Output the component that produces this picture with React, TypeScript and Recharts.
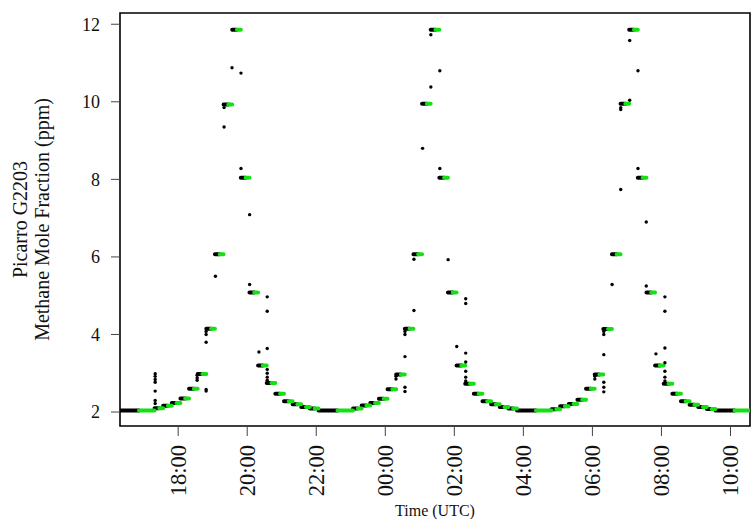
import { ComposedChart, Line, Scatter, XAxis, YAxis, ReferenceArea } from "recharts";

// Picarro G2203 calibration run: 15-minute concentration steps, 1 h at baseline between cycles
const X_MIN = 16.315;
const X_MAX = 34.565;
const Y_MIN = 1.64;
const Y_MAX = 12.29;

const X_TICKS = [18, 20, 22, 24, 26, 28, 30, 32, 34];
const Y_TICKS = [2, 4, 6, 8, 10, 12];

const LEAD_START = 16.315;
const LEAD_LEVEL = 2.04;
const STEP_HOURS = 0.25;
const BASELINE_HOURS = 1;

const CYCLE_STARTS = [17.315, 23.065, 28.815];
const CYCLE1_LEVELS = [2.1, 2.16, 2.23, 2.35, 2.6, 2.98, 4.15, 6.07, 9.93, 11.86, 8.04, 5.08, 3.2, 2.75, 2.47, 2.28, 2.2, 2.13, 2.09];
const CYCLE2_LEVELS = [2.09, 2.17, 2.23, 2.34, 2.59, 2.97, 4.15, 6.07, 9.95, 11.86, 8.04, 5.08, 3.2, 2.73, 2.47, 2.28, 2.2, 2.13, 2.09];
const CYCLE3_LEVELS = [2.07, 2.15, 2.21, 2.32, 2.6, 2.97, 4.14, 6.07, 9.95, 11.86, 8.04, 5.08, 3.2, 2.73, 2.47, 2.28, 2.19, 2.13, 2.08];
const CYCLE_BASELINES = [2.04, 2.04, 2.04];

// transition readings between steps (time in hours, ppm)
const OUTLIERS_C1 = [
  [17.334, 2.99], [17.334, 2.92], [17.334, 2.84], [17.334, 2.77], [17.334, 2.54], [17.334, 2.3], [17.334, 2.22],
  [18.55, 2.82], [18.55, 2.88], [18.55, 2.95],
  [18.81, 2.54], [18.81, 2.58], [18.81, 3.8], [18.81, 4.0], [18.81, 4.08],
  [19.08, 5.5], [19.33, 9.35], [19.33, 9.85], [19.56, 10.88],
  [19.82, 10.74], [19.82, 8.28], [20.07, 7.09], [20.07, 5.29], [20.34, 3.55],
  [20.58, 4.97], [20.58, 4.6], [20.58, 3.64], [20.58, 3.1], [20.58, 3.0], [20.58, 2.9], [20.58, 2.82],
];
const OUTLIERS_C2 = [
  [24.31, 2.85], [24.31, 2.92],
  [24.57, 2.64], [24.57, 2.53], [24.57, 3.43], [24.57, 4.0], [24.57, 4.08],
  [24.83, 4.62], [24.83, 5.94], [25.08, 8.8], [25.32, 10.38], [25.32, 11.73],
  [25.58, 10.8], [25.58, 8.28], [25.82, 5.93], [26.07, 3.69],
  [26.33, 4.92], [26.33, 4.8], [26.33, 3.52], [26.33, 3.29], [26.33, 3.05], [26.33, 2.9], [26.33, 2.8],
];
const OUTLIERS_C3 = [
  [30.07, 2.85], [30.07, 2.92],
  [30.33, 2.77], [30.33, 2.64], [30.33, 2.52], [30.33, 3.48], [30.33, 4.0], [30.33, 4.08],
  [30.57, 5.29], [30.82, 7.74], [30.82, 9.8], [30.82, 9.85],
  [31.08, 10.04], [31.08, 11.58], [31.32, 10.8], [31.32, 8.28],
  [31.56, 6.9], [31.56, 5.25], [31.84, 3.5],
  [32.1, 4.97], [32.1, 4.6], [32.1, 3.65], [32.1, 3.27], [32.1, 3.05], [32.1, 2.9], [32.1, 2.8],
];

const GREEN_FROM = 0.55; // share of each step shown black before the green averaging window
const FONT = "'Liberation Serif', 'Times New Roman', serif";

type Pt = { t: number; v: number | null };

function buildBands() {
  const black: Pt[] = [];
  const green: Pt[] = [];
  const addStep = (t0: number, dur: number, v: number) => {
    const tm = t0 + dur * GREEN_FROM;
    black.push({ t: t0, v }, { t: tm, v }, { t: tm, v: null });
    green.push({ t: tm, v }, { t: t0 + dur, v }, { t: t0 + dur, v: null });
  };
  addStep(LEAD_START, BASELINE_HOURS, LEAD_LEVEL);
  [CYCLE1_LEVELS, CYCLE2_LEVELS, CYCLE3_LEVELS].forEach((levels, c) => {
    let t = CYCLE_STARTS[c];
    levels.forEach((v) => {
      addStep(t, STEP_HOURS, v);
      t += STEP_HOURS;
    });
    addStep(t, BASELINE_HOURS, CYCLE_BASELINES[c]);
  });
  return { black, green };
}

const { black: blackBands, green: greenBands } = buildBands();
const outliers = [...OUTLIERS_C1, ...OUTLIERS_C2, ...OUTLIERS_C3].map(([t, v]) => ({ t, v }));

const fmtHour = (h: number) => String(h % 24).padStart(2, "0") + ":00";

function XTick(props: any) {
  const { x, y, payload } = props;
  return (
    <g transform={`translate(${x},${y})`}>
      <text
        x={y - 445}
        y={0}
        dy="0.35em"
        transform="rotate(-90)"
        textAnchor="end"
        fontSize={22.5}
        fontFamily={FONT}
        fill="#111"
      >
        {fmtHour(payload.value)}
      </text>
    </g>
  );
}

const Dot = (props: any) => <circle cx={props.cx} cy={props.cy} r={1.7} fill="#000" />;

export default function App() {
  return (
    <div style={{ position: "absolute", left: 0, top: 0, background: "#fff" }}>
      <ComposedChart width={752} height={519} margin={{ top: 13, right: 2, bottom: 0, left: 0 }}>
        <XAxis
          dataKey="t"
          type="number"
          domain={[X_MIN, X_MAX]}
          allowDataOverflow
          ticks={X_TICKS}
          interval={0}
          height={93}
          axisLine={false}
          tickSize={10}
          tickLine={{ stroke: "#444" }}
          tick={<XTick />}
          label={{
            value: "Time (UTC)",
            position: "insideBottom",
            content: () => (
              <text x={435} y={516} textAnchor="middle" fontSize={16} fontFamily={FONT} fill="#111">
                Time (UTC)
              </text>
            ),
          }}
        />
        <YAxis
          type="number"
          domain={[Y_MIN, Y_MAX]}
          allowDataOverflow
          ticks={Y_TICKS}
          interval={0}
          width={120}
          axisLine={false}
          tickSize={9}
          tickMargin={11}
          tickLine={{ stroke: "#444" }}
          tick={{ fontSize: 18, fontFamily: FONT, fill: "#111" }}
          label={{
            value: "Methane Mole Fraction (ppm)",
            content: () => (
              <g fontFamily={FONT} fontSize={20} fill="#111">
                <text x={27} y={219.5} transform="rotate(-90 27 219.5)" textAnchor="middle">
                  Picarro G2203
                </text>
                <text x={49} y={219.5} transform="rotate(-90 49 219.5)" textAnchor="middle">
                  Methane Mole Fraction (ppm)
                </text>
              </g>
            ),
          }}
        />
        <Line
          data={blackBands}
          dataKey="v"
          stroke="#000"
          strokeWidth={4}
          strokeLinecap="round"
          dot={false}
          activeDot={false}
          connectNulls={false}
          isAnimationActive={false}
        />
        <Line
          data={greenBands}
          dataKey="v"
          stroke="#14e014"
          strokeWidth={4}
          strokeLinecap="round"
          dot={false}
          activeDot={false}
          connectNulls={false}
          isAnimationActive={false}
        />
        <Scatter data={outliers} dataKey="v" shape={<Dot />} isAnimationActive={false} />
        <ReferenceArea
          x1={X_MIN}
          x2={X_MAX}
          y1={Y_MIN}
          y2={Y_MAX}
          fill="none"
          stroke="#000"
          strokeWidth={1.6}
          ifOverflow="visible"
        />
      </ComposedChart>
    </div>
  );
}
